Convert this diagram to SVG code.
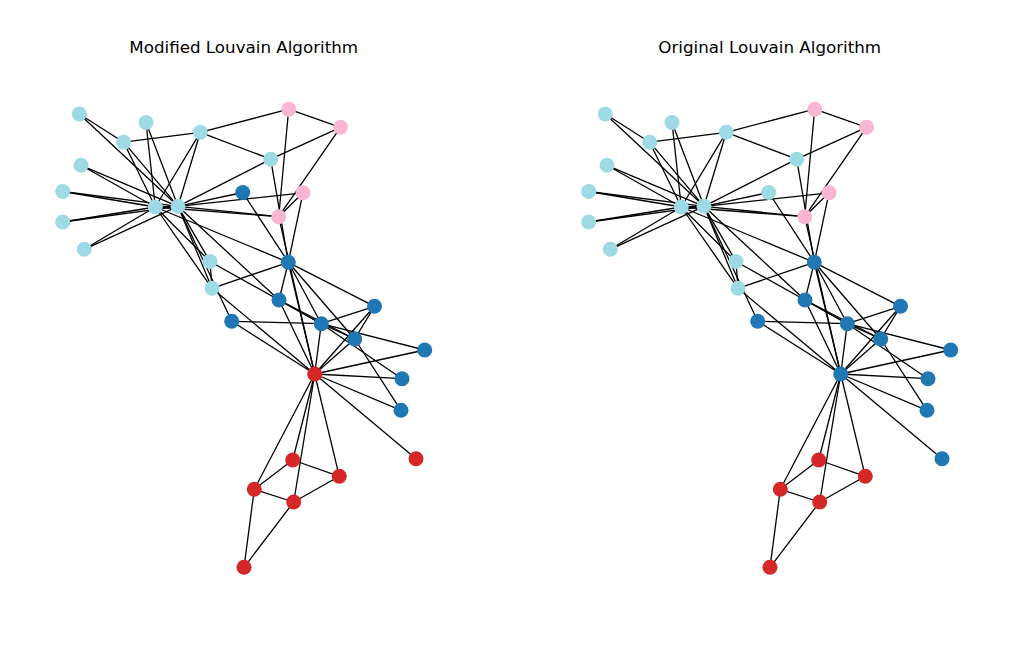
<svg xmlns="http://www.w3.org/2000/svg" width="1028" height="651" viewBox="0 0 1028 651">
<style>
.e line{stroke:#000;stroke-width:1.3;stroke-linecap:round}
.t{font-family:"DejaVu Sans","Liberation Sans",sans-serif;font-size:16.7px;fill:#000;text-anchor:middle}
.lb{fill:#9edae5}.pk{fill:#f7b6d2}.db{fill:#1f77b4}.rd{fill:#d62728}
circle{stroke:none}
</style>
<rect width="1028" height="651" fill="#fff"/>
<text class="t" x="243.7" y="53.3">Modified Louvain Algorithm</text>
<text class="t" x="769.7" y="53.3">Original Louvain Algorithm</text>
<g id="left-graph">
<g id="left-edges" class="e">
<line x1="314.7" y1="374" x2="321.3" y2="323.7"/>
<line x1="314.7" y1="374" x2="288.3" y2="262.3"/>
<line x1="314.7" y1="374" x2="354.7" y2="339"/>
<line x1="314.7" y1="374" x2="339.3" y2="476.3"/>
<line x1="314.7" y1="374" x2="254.3" y2="489.3"/>
<line x1="314.7" y1="374" x2="293.7" y2="502"/>
<line x1="314.7" y1="374" x2="374.5" y2="306.3"/>
<line x1="314.7" y1="374" x2="212" y2="288.3"/>
<line x1="314.7" y1="374" x2="292.7" y2="460"/>
<line x1="314.7" y1="374" x2="416" y2="458.7"/>
<line x1="314.7" y1="374" x2="401" y2="410.3"/>
<line x1="314.7" y1="374" x2="279" y2="300"/>
<line x1="314.7" y1="374" x2="424.7" y2="350"/>
<line x1="314.7" y1="374" x2="231.7" y2="321.3"/>
<line x1="314.7" y1="374" x2="402" y2="378.7"/>
<line x1="314.7" y1="374" x2="278.7" y2="216.7"/>
<line x1="321.3" y1="323.7" x2="288.3" y2="262.3"/>
<line x1="321.3" y1="323.7" x2="354.7" y2="339"/>
<line x1="321.3" y1="323.7" x2="374.5" y2="306.3"/>
<line x1="321.3" y1="323.7" x2="279" y2="300"/>
<line x1="321.3" y1="323.7" x2="424.7" y2="350"/>
<line x1="321.3" y1="323.7" x2="231.7" y2="321.3"/>
<line x1="321.3" y1="323.7" x2="402" y2="378.7"/>
<line x1="321.3" y1="323.7" x2="210" y2="261.5"/>
<line x1="288.3" y1="262.3" x2="354.7" y2="339"/>
<line x1="288.3" y1="262.3" x2="374.5" y2="306.3"/>
<line x1="288.3" y1="262.3" x2="212" y2="288.3"/>
<line x1="288.3" y1="262.3" x2="242.7" y2="192.5"/>
<line x1="288.3" y1="262.3" x2="279" y2="300"/>
<line x1="288.3" y1="262.3" x2="270.7" y2="159.2"/>
<line x1="288.3" y1="262.3" x2="303" y2="192.8"/>
<line x1="288.3" y1="262.3" x2="155.3" y2="207"/>
<line x1="354.7" y1="339" x2="374.5" y2="306.3"/>
<line x1="354.7" y1="339" x2="401" y2="410.3"/>
<line x1="354.7" y1="339" x2="279" y2="300"/>
<line x1="339.3" y1="476.3" x2="293.7" y2="502"/>
<line x1="339.3" y1="476.3" x2="292.7" y2="460"/>
<line x1="254.3" y1="489.3" x2="293.7" y2="502"/>
<line x1="254.3" y1="489.3" x2="292.7" y2="460"/>
<line x1="254.3" y1="489.3" x2="244" y2="567.3"/>
<line x1="293.7" y1="502" x2="244" y2="567.3"/>
<line x1="212" y1="288.3" x2="210" y2="261.5"/>
<line x1="212" y1="288.3" x2="155.3" y2="207"/>
<line x1="212" y1="288.3" x2="178" y2="206.3"/>
<line x1="242.7" y1="192.5" x2="178" y2="206.3"/>
<line x1="279" y1="300" x2="178" y2="206.3"/>
<line x1="146" y1="122.5" x2="155.3" y2="207"/>
<line x1="146" y1="122.5" x2="178" y2="206.3"/>
<line x1="81" y1="165.3" x2="155.3" y2="207"/>
<line x1="81" y1="165.3" x2="178" y2="206.3"/>
<line x1="62.7" y1="191.5" x2="155.3" y2="207"/>
<line x1="62.7" y1="191.5" x2="178" y2="206.3"/>
<line x1="231.7" y1="321.3" x2="178" y2="206.3"/>
<line x1="62.7" y1="222" x2="155.3" y2="207"/>
<line x1="62.7" y1="222" x2="178" y2="206.3"/>
<line x1="84.3" y1="249.3" x2="155.3" y2="207"/>
<line x1="84.3" y1="249.3" x2="178" y2="206.3"/>
<line x1="200.3" y1="132.3" x2="288.7" y2="109.2"/>
<line x1="200.3" y1="132.3" x2="270.7" y2="159.2"/>
<line x1="200.3" y1="132.3" x2="123.7" y2="142.2"/>
<line x1="200.3" y1="132.3" x2="155.3" y2="207"/>
<line x1="200.3" y1="132.3" x2="178" y2="206.3"/>
<line x1="340.5" y1="127.3" x2="288.7" y2="109.2"/>
<line x1="340.5" y1="127.3" x2="270.7" y2="159.2"/>
<line x1="340.5" y1="127.3" x2="278.7" y2="216.7"/>
<line x1="288.7" y1="109.2" x2="278.7" y2="216.7"/>
<line x1="79.3" y1="114" x2="123.7" y2="142.2"/>
<line x1="79.3" y1="114" x2="178" y2="206.3"/>
<line x1="270.7" y1="159.2" x2="178" y2="206.3"/>
<line x1="303" y1="192.8" x2="278.7" y2="216.7"/>
<line x1="303" y1="192.8" x2="178" y2="206.3"/>
<line x1="123.7" y1="142.2" x2="155.3" y2="207"/>
<line x1="123.7" y1="142.2" x2="178" y2="206.3"/>
<line x1="210" y1="261.5" x2="155.3" y2="207"/>
<line x1="210" y1="261.5" x2="178" y2="206.3"/>
<line x1="278.7" y1="216.7" x2="155.3" y2="207"/>
<line x1="278.7" y1="216.7" x2="178" y2="206.3"/>
<line x1="155.3" y1="207" x2="178" y2="206.3"/>
</g>
<g id="L0"><circle class="rd" cx="314.7" cy="374" r="7.5"/></g>
<g id="L1"><circle class="db" cx="321.3" cy="323.7" r="7.5"/></g>
<g id="L2"><circle class="db" cx="288.3" cy="262.3" r="7.5"/></g>
<g id="L3"><circle class="db" cx="354.7" cy="339" r="7.5"/></g>
<g id="L4"><circle class="rd" cx="339.3" cy="476.3" r="7.5"/></g>
<g id="L5"><circle class="rd" cx="254.3" cy="489.3" r="7.5"/></g>
<g id="L6"><circle class="rd" cx="293.7" cy="502" r="7.5"/></g>
<g id="L7"><circle class="db" cx="374.5" cy="306.3" r="7.5"/></g>
<g id="L8"><circle class="lb" cx="212" cy="288.3" r="7.5"/></g>
<g id="L9"><circle class="db" cx="242.7" cy="192.5" r="7.5"/></g>
<g id="L10"><circle class="rd" cx="292.7" cy="460" r="7.5"/></g>
<g id="L11"><circle class="rd" cx="416" cy="458.7" r="7.5"/></g>
<g id="L12"><circle class="db" cx="401" cy="410.3" r="7.5"/></g>
<g id="L13"><circle class="db" cx="279" cy="300" r="7.5"/></g>
<g id="L14"><circle class="lb" cx="146" cy="122.5" r="7.5"/></g>
<g id="L15"><circle class="lb" cx="81" cy="165.3" r="7.5"/></g>
<g id="L16"><circle class="rd" cx="244" cy="567.3" r="7.5"/></g>
<g id="L17"><circle class="db" cx="424.7" cy="350" r="7.5"/></g>
<g id="L18"><circle class="lb" cx="62.7" cy="191.5" r="7.5"/></g>
<g id="L19"><circle class="db" cx="231.7" cy="321.3" r="7.5"/></g>
<g id="L20"><circle class="lb" cx="62.7" cy="222" r="7.5"/></g>
<g id="L21"><circle class="db" cx="402" cy="378.7" r="7.5"/></g>
<g id="L22"><circle class="lb" cx="84.3" cy="249.3" r="7.5"/></g>
<g id="L23"><circle class="lb" cx="200.3" cy="132.3" r="7.5"/></g>
<g id="L24"><circle class="pk" cx="340.5" cy="127.3" r="7.5"/></g>
<g id="L25"><circle class="pk" cx="288.7" cy="109.2" r="7.5"/></g>
<g id="L26"><circle class="lb" cx="79.3" cy="114" r="7.5"/></g>
<g id="L27"><circle class="lb" cx="270.7" cy="159.2" r="7.5"/></g>
<g id="L28"><circle class="pk" cx="303" cy="192.8" r="7.5"/></g>
<g id="L29"><circle class="lb" cx="123.7" cy="142.2" r="7.5"/></g>
<g id="L30"><circle class="lb" cx="210" cy="261.5" r="7.5"/></g>
<g id="L31"><circle class="pk" cx="278.7" cy="216.7" r="7.5"/></g>
<g id="L32"><circle class="lb" cx="155.3" cy="207" r="7.5"/></g>
<g id="L33"><circle class="lb" cx="178" cy="206.3" r="7.5"/></g>
</g>
<g id="right-graph" transform="translate(526,0)">
<g id="right-edges" class="e">
<line x1="314.7" y1="374" x2="321.3" y2="323.7"/>
<line x1="314.7" y1="374" x2="288.3" y2="262.3"/>
<line x1="314.7" y1="374" x2="354.7" y2="339"/>
<line x1="314.7" y1="374" x2="339.3" y2="476.3"/>
<line x1="314.7" y1="374" x2="254.3" y2="489.3"/>
<line x1="314.7" y1="374" x2="293.7" y2="502"/>
<line x1="314.7" y1="374" x2="374.5" y2="306.3"/>
<line x1="314.7" y1="374" x2="212" y2="288.3"/>
<line x1="314.7" y1="374" x2="292.7" y2="460"/>
<line x1="314.7" y1="374" x2="416" y2="458.7"/>
<line x1="314.7" y1="374" x2="401" y2="410.3"/>
<line x1="314.7" y1="374" x2="279" y2="300"/>
<line x1="314.7" y1="374" x2="424.7" y2="350"/>
<line x1="314.7" y1="374" x2="231.7" y2="321.3"/>
<line x1="314.7" y1="374" x2="402" y2="378.7"/>
<line x1="314.7" y1="374" x2="278.7" y2="216.7"/>
<line x1="321.3" y1="323.7" x2="288.3" y2="262.3"/>
<line x1="321.3" y1="323.7" x2="354.7" y2="339"/>
<line x1="321.3" y1="323.7" x2="374.5" y2="306.3"/>
<line x1="321.3" y1="323.7" x2="279" y2="300"/>
<line x1="321.3" y1="323.7" x2="424.7" y2="350"/>
<line x1="321.3" y1="323.7" x2="231.7" y2="321.3"/>
<line x1="321.3" y1="323.7" x2="402" y2="378.7"/>
<line x1="321.3" y1="323.7" x2="210" y2="261.5"/>
<line x1="288.3" y1="262.3" x2="354.7" y2="339"/>
<line x1="288.3" y1="262.3" x2="374.5" y2="306.3"/>
<line x1="288.3" y1="262.3" x2="212" y2="288.3"/>
<line x1="288.3" y1="262.3" x2="242.7" y2="192.5"/>
<line x1="288.3" y1="262.3" x2="279" y2="300"/>
<line x1="288.3" y1="262.3" x2="270.7" y2="159.2"/>
<line x1="288.3" y1="262.3" x2="303" y2="192.8"/>
<line x1="288.3" y1="262.3" x2="155.3" y2="207"/>
<line x1="354.7" y1="339" x2="374.5" y2="306.3"/>
<line x1="354.7" y1="339" x2="401" y2="410.3"/>
<line x1="354.7" y1="339" x2="279" y2="300"/>
<line x1="339.3" y1="476.3" x2="293.7" y2="502"/>
<line x1="339.3" y1="476.3" x2="292.7" y2="460"/>
<line x1="254.3" y1="489.3" x2="293.7" y2="502"/>
<line x1="254.3" y1="489.3" x2="292.7" y2="460"/>
<line x1="254.3" y1="489.3" x2="244" y2="567.3"/>
<line x1="293.7" y1="502" x2="244" y2="567.3"/>
<line x1="212" y1="288.3" x2="210" y2="261.5"/>
<line x1="212" y1="288.3" x2="155.3" y2="207"/>
<line x1="212" y1="288.3" x2="178" y2="206.3"/>
<line x1="242.7" y1="192.5" x2="178" y2="206.3"/>
<line x1="279" y1="300" x2="178" y2="206.3"/>
<line x1="146" y1="122.5" x2="155.3" y2="207"/>
<line x1="146" y1="122.5" x2="178" y2="206.3"/>
<line x1="81" y1="165.3" x2="155.3" y2="207"/>
<line x1="81" y1="165.3" x2="178" y2="206.3"/>
<line x1="62.7" y1="191.5" x2="155.3" y2="207"/>
<line x1="62.7" y1="191.5" x2="178" y2="206.3"/>
<line x1="231.7" y1="321.3" x2="178" y2="206.3"/>
<line x1="62.7" y1="222" x2="155.3" y2="207"/>
<line x1="62.7" y1="222" x2="178" y2="206.3"/>
<line x1="84.3" y1="249.3" x2="155.3" y2="207"/>
<line x1="84.3" y1="249.3" x2="178" y2="206.3"/>
<line x1="200.3" y1="132.3" x2="288.7" y2="109.2"/>
<line x1="200.3" y1="132.3" x2="270.7" y2="159.2"/>
<line x1="200.3" y1="132.3" x2="123.7" y2="142.2"/>
<line x1="200.3" y1="132.3" x2="155.3" y2="207"/>
<line x1="200.3" y1="132.3" x2="178" y2="206.3"/>
<line x1="340.5" y1="127.3" x2="288.7" y2="109.2"/>
<line x1="340.5" y1="127.3" x2="270.7" y2="159.2"/>
<line x1="340.5" y1="127.3" x2="278.7" y2="216.7"/>
<line x1="288.7" y1="109.2" x2="278.7" y2="216.7"/>
<line x1="79.3" y1="114" x2="123.7" y2="142.2"/>
<line x1="79.3" y1="114" x2="178" y2="206.3"/>
<line x1="270.7" y1="159.2" x2="178" y2="206.3"/>
<line x1="303" y1="192.8" x2="278.7" y2="216.7"/>
<line x1="303" y1="192.8" x2="178" y2="206.3"/>
<line x1="123.7" y1="142.2" x2="155.3" y2="207"/>
<line x1="123.7" y1="142.2" x2="178" y2="206.3"/>
<line x1="210" y1="261.5" x2="155.3" y2="207"/>
<line x1="210" y1="261.5" x2="178" y2="206.3"/>
<line x1="278.7" y1="216.7" x2="155.3" y2="207"/>
<line x1="278.7" y1="216.7" x2="178" y2="206.3"/>
<line x1="155.3" y1="207" x2="178" y2="206.3"/>
</g>
<g id="R0"><circle class="db" cx="314.7" cy="374" r="7.5"/></g>
<g id="R1"><circle class="db" cx="321.3" cy="323.7" r="7.5"/></g>
<g id="R2"><circle class="db" cx="288.3" cy="262.3" r="7.5"/></g>
<g id="R3"><circle class="db" cx="354.7" cy="339" r="7.5"/></g>
<g id="R4"><circle class="rd" cx="339.3" cy="476.3" r="7.5"/></g>
<g id="R5"><circle class="rd" cx="254.3" cy="489.3" r="7.5"/></g>
<g id="R6"><circle class="rd" cx="293.7" cy="502" r="7.5"/></g>
<g id="R7"><circle class="db" cx="374.5" cy="306.3" r="7.5"/></g>
<g id="R8"><circle class="lb" cx="212" cy="288.3" r="7.5"/></g>
<g id="R9"><circle class="lb" cx="242.7" cy="192.5" r="7.5"/></g>
<g id="R10"><circle class="rd" cx="292.7" cy="460" r="7.5"/></g>
<g id="R11"><circle class="db" cx="416" cy="458.7" r="7.5"/></g>
<g id="R12"><circle class="db" cx="401" cy="410.3" r="7.5"/></g>
<g id="R13"><circle class="db" cx="279" cy="300" r="7.5"/></g>
<g id="R14"><circle class="lb" cx="146" cy="122.5" r="7.5"/></g>
<g id="R15"><circle class="lb" cx="81" cy="165.3" r="7.5"/></g>
<g id="R16"><circle class="rd" cx="244" cy="567.3" r="7.5"/></g>
<g id="R17"><circle class="db" cx="424.7" cy="350" r="7.5"/></g>
<g id="R18"><circle class="lb" cx="62.7" cy="191.5" r="7.5"/></g>
<g id="R19"><circle class="db" cx="231.7" cy="321.3" r="7.5"/></g>
<g id="R20"><circle class="lb" cx="62.7" cy="222" r="7.5"/></g>
<g id="R21"><circle class="db" cx="402" cy="378.7" r="7.5"/></g>
<g id="R22"><circle class="lb" cx="84.3" cy="249.3" r="7.5"/></g>
<g id="R23"><circle class="lb" cx="200.3" cy="132.3" r="7.5"/></g>
<g id="R24"><circle class="pk" cx="340.5" cy="127.3" r="7.5"/></g>
<g id="R25"><circle class="pk" cx="288.7" cy="109.2" r="7.5"/></g>
<g id="R26"><circle class="lb" cx="79.3" cy="114" r="7.5"/></g>
<g id="R27"><circle class="lb" cx="270.7" cy="159.2" r="7.5"/></g>
<g id="R28"><circle class="pk" cx="303" cy="192.8" r="7.5"/></g>
<g id="R29"><circle class="lb" cx="123.7" cy="142.2" r="7.5"/></g>
<g id="R30"><circle class="lb" cx="210" cy="261.5" r="7.5"/></g>
<g id="R31"><circle class="pk" cx="278.7" cy="216.7" r="7.5"/></g>
<g id="R32"><circle class="lb" cx="155.3" cy="207" r="7.5"/></g>
<g id="R33"><circle class="lb" cx="178" cy="206.3" r="7.5"/></g>
</g>
</svg>
